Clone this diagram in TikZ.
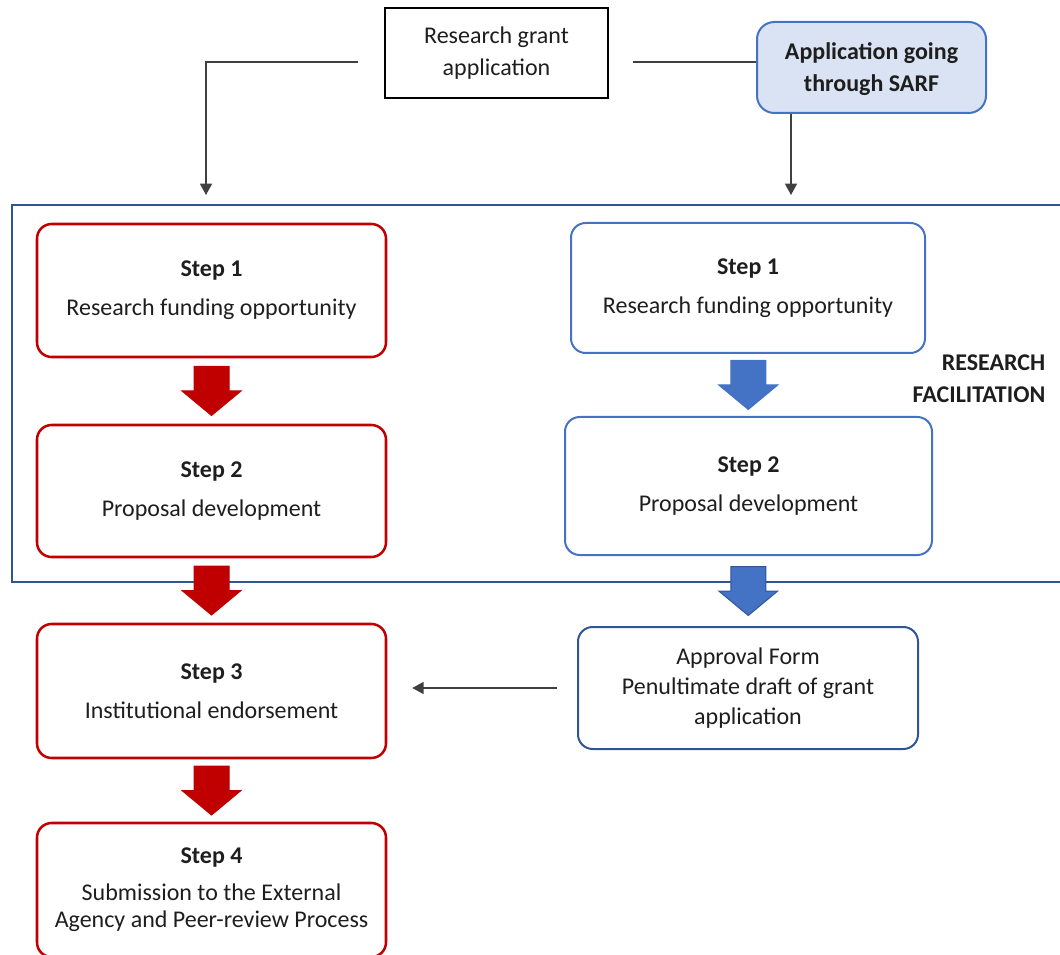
\documentclass[tikz,border=0pt]{standalone}
\usepackage{fontspec}
\setmainfont{Carlito}
\usetikzlibrary{arrows.meta,calc}
\definecolor{cred}{HTML}{C00000}
\definecolor{cblue}{HTML}{4472C4}
\definecolor{cdark}{HTML}{2F5597}
\definecolor{clight}{HTML}{DAE3F3}
\definecolor{ctext}{HTML}{1E1E1E}
\tikzset{
  pics/barrow/.style args={#1/#2}{code={
    \filldraw[fill=#1,draw=#2,line width=0.75pt]
      (-17.5,-24.5) -- (17.5,-24.5) -- (17.5,0) -- (29.5,0) -- (0,24.5) -- (-29.5,0) -- (-17.5,0) -- cycle;}},
}
\begin{document}
\begin{tikzpicture}[x=0.75pt,y=-0.75pt,
  box/.style={draw, rounded corners=11pt, align=center, inner sep=0pt, text=ctext,
    font=\fontsize{18}{22}\selectfont},
  redbox/.style={box, draw=cred, line width=1.9pt, minimum width=261.75pt},
  bluebox/.style={box, draw=cblue, line width=1.5pt},
  conn/.style={draw=black!75, line width=1.1pt},
  tipend/.style={-{Triangle[length=8.5pt,width=9pt]}},
]
\useasboundingbox (0,0) rectangle (1060,955);

% container
\draw[cdark, line width=1.5pt] (12,205) rectangle (1075,582);
\node[anchor=east, align=right, text=ctext, font=\fontsize{18}{24}\selectfont\bfseries] (rf) at (1050,379) {RESEARCH\\FACILITATION};

% top boxes
\node[draw=black, line width=1.8pt, align=center, inner sep=0pt, text=ctext,
  minimum width=167.25pt, minimum height=67.5pt, font=\fontsize{18}{24}\selectfont]
  (grant) at (496.5,53) {Research grant\\application};
\node[box, draw=cblue, fill=clight, line width=1.5pt, rounded corners=13pt,
  minimum width=171.75pt, minimum height=68.25pt, text depth=0pt, font=\fontsize{18}{24}\selectfont\bfseries]
  (sarf) at (871.5,67.5) {Application going\\through SARF};

% red column
\node[redbox, minimum height=99.75pt] (r1) at (211.5,290.5) {\textbf{Step 1}\\[7pt]Research funding opportunity};
\node[redbox, minimum height=99pt] (r2) at (211.5,491) {\textbf{Step 2}\\[7pt]Proposal development};
\node[redbox, minimum height=100.5pt] (r3) at (211.5,691) {\textbf{Step 3}\\[7pt]Institutional endorsement};
\node[redbox, minimum height=100.5pt, font=\fontsize{18}{20.5}\selectfont] (r4) at (211.5,890) {\textbf{Step 4}\\[7pt]Submission to the External\\Agency and Peer-review Process};

% blue column
\node[bluebox, minimum width=265.5pt, minimum height=97.5pt] (b1) at (748,288) {\textbf{Step 1}\\[7pt]Research funding opportunity};
\node[bluebox, minimum width=275.25pt, minimum height=103.5pt] (b2) at (748.5,486) {\textbf{Step 2}\\[7pt]Proposal development};
\node[box, draw=cdark, line width=1.5pt, minimum width=255pt, minimum height=91.5pt,
  font=\fontsize{18}{22.5}\selectfont] (appr) at (748,688) {Approval Form\\Penultimate draft of grant\\application};

% block arrows
\pic at ($(r1.south)!0.5!(r2.north)$) {barrow=cred/cred};
\pic at ($(r2.south)!0.5!(r3.north)$) {barrow=cred/cred};
\pic at ($(r3.south)!0.5!(r4.north)$) {barrow=cred/cred};
\pic at ($(b1.south)!0.5!(b2.north)$) {barrow=cblue/cblue};
\pic at ($(b2.south)!0.5!(appr.north)$) {barrow=cblue/cdark};

% connectors
\coordinate (gl) at (358,62);
\coordinate (ltip) at (206,195);
\draw[conn, tipend] (gl) -- (gl -| ltip) -- (ltip);
\coordinate (gr) at (633,62);
\draw[conn] (gr) -- (gr -| sarf.west);
\coordinate (rtip) at (791,195);
\draw[conn, tipend] (sarf.south -| rtip) -- (rtip);
\coordinate (as) at ($(appr.west)+(-20,0)$);
\coordinate (at3) at ($(r3.east)+(25,0)$);
\draw[conn, tipend] (as) -- (as -| at3);
\end{tikzpicture}
\end{document}
